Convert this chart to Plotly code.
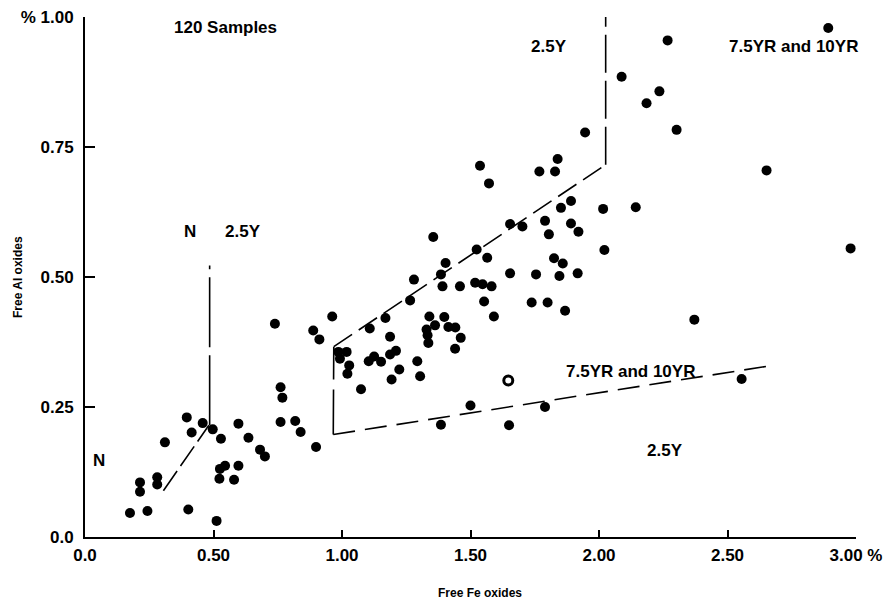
import plotly.graph_objects as go

# Scatter data (Free Fe oxides %, Free Al oxides %)
fe = [0.175, 0.214, 0.214, 0.243, 0.281, 0.281, 0.311, 0.396, 0.415, 0.402,
      0.458, 0.497, 0.529, 0.512, 0.525, 0.545, 0.523, 0.597, 0.580, 0.597,
      0.636, 0.681, 0.700, 0.761, 0.768, 0.761, 0.818, 0.839, 0.899, 0.739,
      0.888, 0.912, 0.962, 0.986, 1.018, 0.992, 1.028, 1.021, 1.074, 1.108,
      1.104, 1.125, 1.152, 1.169, 1.187, 1.187, 1.210, 1.223, 1.193, 1.265,
      1.280, 1.293, 1.304, 1.355, 1.340, 1.329, 1.362, 1.333, 1.336, 1.385,
      1.403, 1.391, 1.398, 1.414, 1.441, 1.462, 1.440, 1.459, 1.385, 1.500,
      1.524, 1.565, 1.518, 1.547, 1.582, 1.553, 1.591, 1.654, 1.654, 1.650,
      1.946, 1.839, 1.768, 1.829, 1.537, 1.572, 1.891, 1.852, 1.790, 1.805,
      1.891, 1.920, 2.016, 2.143, 2.021, 1.702, 1.825, 1.859, 1.755, 1.846,
      1.917, 1.738, 1.800, 1.868, 2.892, 2.267, 2.088, 2.235, 2.185, 2.302,
      2.652, 2.979, 2.371, 2.555, 1.790]
al = [0.046, 0.105, 0.087, 0.050, 0.115, 0.101, 0.182, 0.230, 0.201, 0.053,
      0.219, 0.207, 0.189, 0.031, 0.131, 0.137, 0.112, 0.137, 0.110, 0.218,
      0.191, 0.168, 0.155, 0.288, 0.268, 0.221, 0.223, 0.202, 0.173, 0.410,
      0.397, 0.380, 0.424, 0.356, 0.356, 0.343, 0.330, 0.314, 0.284, 0.401,
      0.338, 0.347, 0.337, 0.421, 0.385, 0.351, 0.358, 0.322, 0.303, 0.455,
      0.495, 0.338, 0.309, 0.577, 0.424, 0.399, 0.407, 0.388, 0.373, 0.505,
      0.527, 0.482, 0.423, 0.404, 0.403, 0.383, 0.362, 0.482, 0.216, 0.253,
      0.553, 0.537, 0.489, 0.486, 0.482, 0.453, 0.424, 0.602, 0.507, 0.215,
      0.778, 0.727, 0.703, 0.703, 0.714, 0.680, 0.646, 0.633, 0.608, 0.582,
      0.603, 0.587, 0.631, 0.634, 0.552, 0.597, 0.536, 0.526, 0.505, 0.502,
      0.507, 0.451, 0.451, 0.435, 0.979, 0.955, 0.885, 0.857, 0.834, 0.783,
      0.705, 0.555, 0.418, 0.304, 0.250]
open_fe = [1.647]
open_al = [0.301]

# Boundary lines
bnd1_diag_x = [0.305, 0.482]
bnd1_diag_y = [0.089, 0.215]
bnd1_vert_x = [0.485, 0.485]
bnd1_vert_y = [0.215, 0.522]
bnd2_left_x = [0.966, 0.968]
bnd2_left_y = [0.197, 0.366]
bnd2_diag_x = [0.968, 2.026]
bnd2_diag_y = [0.366, 0.716]
bnd2_right_x = [2.026, 2.026]
bnd2_right_y = [0.716, 1.0]
bnd3_x = [0.966, 2.65]
bnd3_y = [0.197, 0.328]

x_tickvals = [0, 0.5, 1.0, 1.5, 2.0, 2.5, 3.0]
x_ticktext = ["0.0", "0.50", "1.00", "1.50", "2.00", "2.50", "3.00 %"]
y_tickvals = [0, 0.25, 0.5, 0.75, 1.0]
y_ticktext = ["0.0", "0.25", "0.50", "0.75", "% 1.00"]

labels = [
    ("120 Samples", 0.545, 0.979),
    ("2.5Y", 1.805, 0.944),
    ("7.5YR and 10YR", 2.756, 0.943),
    ("N", 0.409, 0.588),
    ("2.5Y", 0.615, 0.588),
    ("N", 0.054, 0.148),
    ("7.5YR and 10YR", 2.121, 0.319),
    ("2.5Y", 2.257, 0.166),
]

FONT = "Liberation Sans"
fig = go.Figure()

def add_line(xs, ys, dash):
    fig.add_trace(go.Scatter(x=xs, y=ys, mode="lines",
                             line=dict(color="black", width=1.6, dash=dash),
                             hoverinfo="skip", showlegend=False))

add_line(bnd1_diag_x, bnd1_diag_y, "24px,6px")
add_line(bnd1_vert_x, bnd1_vert_y, "70px,8px")
add_line(bnd2_left_x, bnd2_left_y, "45px,10px")
add_line(bnd2_diag_x, bnd2_diag_y, "22px,8px")
add_line(bnd2_right_x, bnd2_right_y, "38px,8px")
add_line(bnd3_x, bnd3_y, "22px,10px")

fig.add_trace(go.Scatter(x=fe, y=al, mode="markers",
                         marker=dict(color="black", size=10, line=dict(width=0)),
                         showlegend=False))
fig.add_trace(go.Scatter(x=open_fe, y=open_al, mode="markers",
                         marker=dict(color="white", size=9,
                                     line=dict(color="black", width=3)),
                         showlegend=False))

for txt, x, y in labels:
    fig.add_annotation(x=x, y=y, text=txt, showarrow=False,
                       font=dict(family=FONT, size=17, color="black", weight="bold"))

fig.add_annotation(xref="paper", yref="paper", x=0, y=0.5, xshift=-67,
                   xanchor="center", yanchor="middle",
                   text="Free Al oxides", textangle=-90, showarrow=False,
                   font=dict(family=FONT, size=12, color="black", weight="bold"))
fig.add_annotation(xref="paper", yref="paper", x=0.512, y=0, yshift=-56,
                   xanchor="center", yanchor="middle",
                   text="Free Fe oxides", showarrow=False,
                   font=dict(family=FONT, size=12, color="black", weight="bold"))

fig.update_layout(
    width=892, height=602,
    margin=dict(l=77, r=44, t=9, b=73, autoexpand=False),
    paper_bgcolor="white", plot_bgcolor="white",
    font=dict(family=FONT, size=16, color="black"),
    xaxis=dict(range=[0, 3.0], tickvals=x_tickvals, ticktext=x_ticktext,
               automargin=False, ticklabeloverflow="allow",
               showgrid=False, zeroline=False, showline=True, linecolor="black",
               linewidth=2, ticks="inside", ticklen=7, tickwidth=1.5,
               tickcolor="black", ticklabelstandoff=2,
               tickfont=dict(family=FONT, size=17, color="black", weight="bold")),
    yaxis=dict(range=[0, 1.0], tickvals=y_tickvals, ticktext=y_ticktext,
               automargin=False, ticklabeloverflow="allow",
               showgrid=False, zeroline=False, showline=True, linecolor="black",
               linewidth=2, ticks="inside", ticklen=10, tickwidth=1.5,
               tickcolor="black", ticklabelstandoff=6,
               tickfont=dict(family=FONT, size=17, color="black", weight="bold")),
)

fig.write_html("out.html")
